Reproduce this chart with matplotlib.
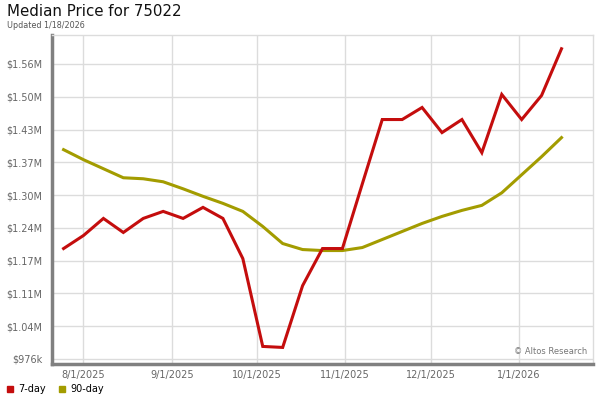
import datetime as dt

import matplotlib
matplotlib.use('Agg')
import matplotlib.pyplot as plt
import matplotlib.dates as mdates
from matplotlib.lines import Line2D

# weekly points, 7/25/2025 .. 1/16/2026
start = dt.date(2025, 7, 25)
dates = [start + dt.timedelta(days=7 * i) for i in range(26)]

# values in $k
day7 = [1196, 1222, 1256, 1228, 1256, 1270, 1256, 1278, 1256, 1176,
        1001, 999, 1122, 1196, 1196, 1325, 1453, 1453, 1477, 1427,
        1453, 1387, 1503, 1453, 1501, 1594]
day90 = [1393, 1373, 1355, 1337, 1335, 1329, 1315, 1300, 1286, 1270,
         1240, 1206, 1194, 1192, 1192, 1198, 1214, 1230, 1246, 1260,
         1272, 1282, 1307, 1343, 1379, 1417]

ytick_vals = [976.0 + 65.3 * i for i in range(10)]
ytick_labels = ['$976k', '$1.04M', '$1.11M', '$1.17M', '$1.24M',
                '$1.30M', '$1.37M', '$1.43M', '$1.50M', '$1.56M']
xtick_dates = [dt.date(2025, 8, 1), dt.date(2025, 9, 1),
               dt.date(2025, 10, 1), dt.date(2025, 11, 1),
               dt.date(2025, 12, 1), dt.date(2026, 1, 1)]
xtick_labels = ['8/1/2025', '9/1/2025', '10/1/2025', '11/1/2025',
                '12/1/2025', '1/1/2026']

RED = '#c40d0d'
OLIVE = '#a39c00'
GRID = '#dcdcdc'

fig = plt.figure(figsize=(6, 4), dpi=100)
ax = fig.add_axes([0.087, 0.09, 0.901, 0.822])

ax.plot(dates, day90, color=OLIVE, lw=2.2, solid_joinstyle='miter', zorder=3)
ax.plot(dates, day7, color=RED, lw=2.2, solid_joinstyle='miter', zorder=4)

ax.set_xlim(dt.date(2025, 7, 21), dt.date(2026, 1, 27))
ax.set_ylim(966, 1621)

ax.set_yticks(ytick_vals)
ax.set_yticklabels(ytick_labels)
ax.set_xticks([mdates.date2num(d) for d in xtick_dates])
ax.set_xticklabels(xtick_labels)
ax.tick_params(axis='both', length=0, labelsize=7, colors='#666666')
ax.tick_params(axis='y', pad=7)
ax.tick_params(axis='x', pad=4)

ax.grid(True, color=GRID, lw=1)
ax.set_axisbelow(True)

for side in ['top', 'right']:
    ax.spines[side].set_color(GRID)
    ax.spines[side].set_linewidth(1)
for side in ['left', 'bottom']:
    ax.spines[side].set_color('#808080')
    ax.spines[side].set_linewidth(2.5)

ax.text(0.99, 0.025, '\u00a9 Altos Research', transform=ax.transAxes,
        ha='right', va='bottom', fontsize=6, color='#777777')

fig.text(0.012, 0.97, 'Median Price for 75022', fontsize=10.8,
         ha='left', va='center', color='#111111')
fig.text(0.012, 0.937, 'Updated 1/18/2026', fontsize=5.8,
         ha='left', va='center', color='#555555')

handles = [Line2D([], [], ls='none', marker='s', markersize=5, color=RED),
           Line2D([], [], ls='none', marker='s', markersize=5, color=OLIVE)]
fig.legend(handles, ['7-day', '90-day'], loc='lower left',
           bbox_to_anchor=(0.0, 0.0), ncol=2, frameon=False, fontsize=7,
           handlelength=0.8, handletextpad=0.5, columnspacing=1.2,
           borderaxespad=0.2)

fig.savefig('out.png', dpi=100)
